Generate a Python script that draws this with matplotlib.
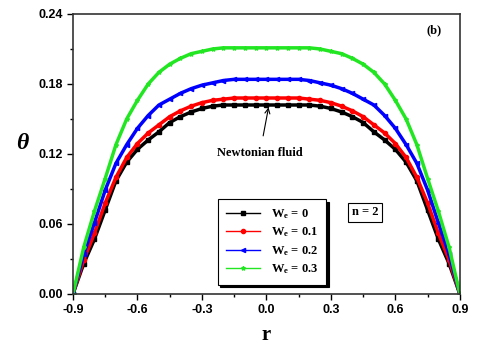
import matplotlib
matplotlib.use('Agg')
import matplotlib.pyplot as plt
from matplotlib.ticker import MultipleLocator

# radial positions
r = [-0.9, -0.85, -0.8, -0.75, -0.7, -0.65, -0.6, -0.55, -0.5, -0.45,
     -0.4, -0.35, -0.3, -0.25, -0.2, -0.15, -0.1, -0.05, 0.0,
     0.05, 0.1, 0.15, 0.2, 0.25, 0.3, 0.35, 0.4, 0.45, 0.5,
     0.55, 0.6, 0.65, 0.7, 0.75, 0.8, 0.85, 0.9]

# temperature profiles
theta_we0 = [0.0, 0.026, 0.047, 0.072, 0.097, 0.113, 0.124, 0.132, 0.139, 0.147,
             0.152, 0.156, 0.159, 0.161, 0.162, 0.162, 0.162, 0.162, 0.162,
             0.162, 0.162, 0.162, 0.162, 0.161, 0.159, 0.156, 0.152, 0.147, 0.139,
             0.132, 0.124, 0.113, 0.097, 0.072, 0.047, 0.026, 0.0]
theta_we1 = [0.0, 0.029, 0.052, 0.078, 0.100, 0.117, 0.129, 0.138, 0.145, 0.152,
             0.157, 0.161, 0.164, 0.166, 0.167, 0.168, 0.168, 0.168, 0.168,
             0.168, 0.168, 0.168, 0.167, 0.166, 0.164, 0.161, 0.157, 0.152, 0.145,
             0.138, 0.129, 0.117, 0.100, 0.078, 0.052, 0.029, 0.0]
theta_we2 = [0.0, 0.034, 0.061, 0.089, 0.112, 0.128, 0.142, 0.153, 0.162, 0.167,
             0.172, 0.176, 0.179, 0.181, 0.183, 0.184, 0.184, 0.184, 0.184,
             0.184, 0.184, 0.184, 0.183, 0.181, 0.179, 0.176, 0.172, 0.167, 0.162,
             0.153, 0.142, 0.128, 0.112, 0.089, 0.061, 0.034, 0.0]
theta_we3 = [0.0, 0.040, 0.071, 0.099, 0.128, 0.150, 0.166, 0.180, 0.190, 0.197,
             0.202, 0.206, 0.208, 0.210, 0.211, 0.211, 0.211, 0.211, 0.211,
             0.211, 0.211, 0.211, 0.211, 0.210, 0.208, 0.206, 0.202, 0.197, 0.190,
             0.180, 0.166, 0.150, 0.128, 0.099, 0.071, 0.040, 0.0]

labels = ['W$_e$ = 0', 'W$_e$ = 0.1', 'W$_e$ = 0.2', 'W$_e$ = 0.3']
colors = ['black', 'red', 'blue', '#22e622']
markers = ['s', 'o', '<', '*']

serif = ['Liberation Serif', 'DejaVu Serif']
sans = ['Liberation Sans', 'DejaVu Sans']
plt.rcParams['font.family'] = sans
plt.rcParams['font.weight'] = 'bold'
plt.rcParams['mathtext.default'] = 'regular'

fig = plt.figure(figsize=(4.8, 3.5), dpi=100)
ax = fig.add_axes([0.152, 0.16, 0.806, 0.8])

series = [theta_we0, theta_we1, theta_we2, theta_we3]
for y, lab, c, m in zip(series, labels, colors, markers):
    ax.plot(r, y, color=c, marker=m, markersize=3, lw=2.5, label=lab)

ax.set_xlim(-0.9, 0.9)
ax.set_ylim(0, 0.24)
ax.xaxis.set_major_locator(MultipleLocator(0.3))
ax.xaxis.set_minor_locator(MultipleLocator(0.15))
ax.yaxis.set_major_locator(MultipleLocator(0.06))
ax.yaxis.set_minor_locator(MultipleLocator(0.03))
ax.xaxis.set_major_formatter(plt.FuncFormatter(lambda v, p: f'{v:.1f}'))
ax.yaxis.set_major_formatter(plt.FuncFormatter(lambda v, p: f'{v:.2f}'))
ax.tick_params(which='both', direction='out', top=False, right=False,
               labelsize=9, labelfontfamily='Liberation Sans')
ax.tick_params(which='major', length=4, width=1)
ax.tick_params(which='minor', length=2.5, width=1)
for s in ax.spines.values():
    s.set_linewidth(1.2)
    s.set_color('#333333')

ax.set_xlabel('r', family=serif, fontweight='bold', fontsize=15, labelpad=6)
ax.set_ylabel('θ', family=serif, fontweight='bold', style='italic', fontsize=17,
              rotation=0)
ax.yaxis.set_label_coords(-0.13, 0.5)

ax.text(0.78, 0.226, '(b)', family=serif, fontweight='bold', fontsize=9,
        ha='center', va='center')
ax.annotate('Newtonian fluid', xy=(0.01, 0.160), xytext=(-0.03, 0.121),
            family=serif, fontweight='bold', fontsize=9, ha='center', va='center',
            arrowprops=dict(arrowstyle='->', color='black', lw=0.8,
                            shrinkA=6, shrinkB=0))
ax.text(0.46, 0.0699, 'n = 2', family=serif, fontweight='bold', fontsize=9,
        ha='center', va='center',
        bbox=dict(boxstyle='square,pad=0.3', fc='white', ec='black', lw=0.8))

leg = ax.legend(loc='upper left', bbox_to_anchor=(0.374, 0.34), frameon=True,
                fancybox=False, shadow={'color': 'black', 'alpha': 1},
                borderaxespad=0,
                prop={'family': serif, 'weight': 'bold', 'size': 9},
                handlelength=2.7, borderpad=0.65, labelspacing=0.38,
                handletextpad=0.9)
leg.get_frame().set_edgecolor('black')
leg.get_frame().set_linewidth(0.8)
for h in leg.legend_handles:
    h.set_linewidth(1)

fig.savefig('out.png', dpi=100)
